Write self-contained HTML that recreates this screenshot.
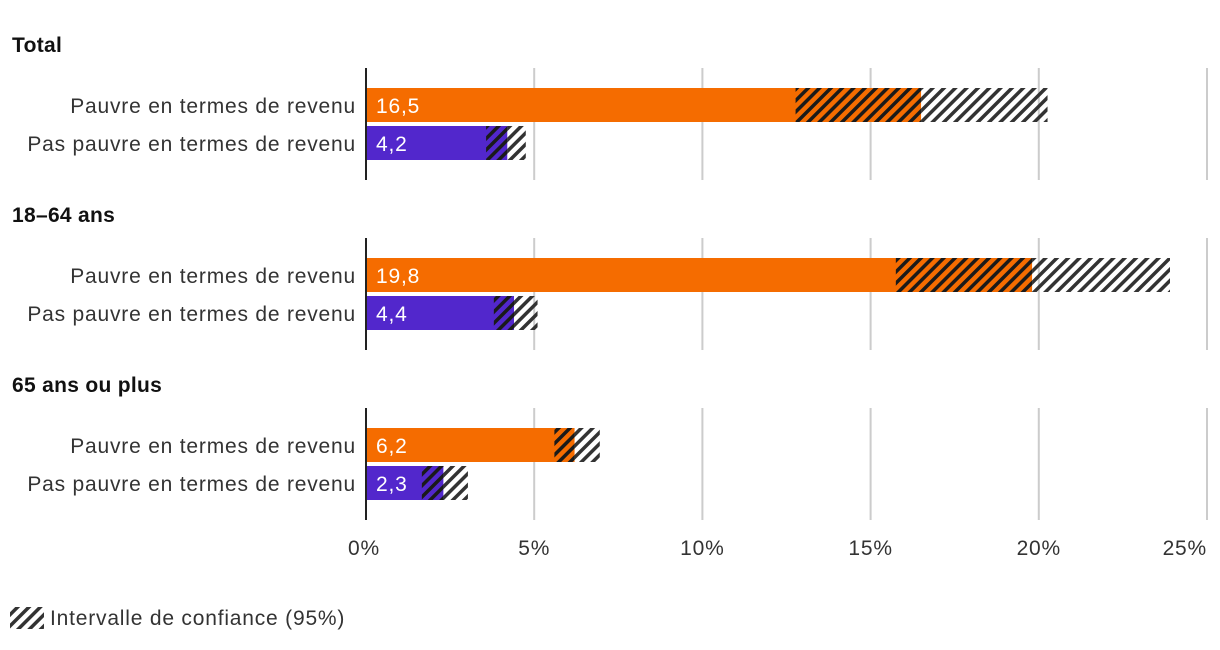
<!DOCTYPE html>
<html><head><meta charset="utf-8"><style>
body{margin:0;background:#fff;}
svg{display:block;font-family:"Liberation Sans",sans-serif;}
</style></head><body>
<svg id="chart" width="1220" height="650">
<defs>
<pattern id="hatch" patternUnits="userSpaceOnUse" width="8" height="8" patternTransform="rotate(45)">
<rect x="0" y="0" width="3.5" height="8" fill="#333"/>
</pattern>
<pattern id="hatchDark" patternUnits="userSpaceOnUse" width="8" height="8" patternTransform="rotate(45)">
<rect x="0" y="0" width="3.5" height="8" fill="#1a1a1a"/>
</pattern>
</defs>
</svg>
<script>
const groups=["Total","18–64 ans","65 ans ou plus"];
const categories=["Pauvre en termes de revenu","Pas pauvre en termes de revenu"];
const values=[[16.5,4.2],[19.8,4.4],[6.2,2.3]];
const ciLow=[[12.77,3.57],[15.75,3.8],[5.6,1.66]];
const ciHigh=[[20.26,4.75],[23.9,5.1],[6.95,3.03]];
const ticks=[0,5,10,15,20,25];
const colors=["#f56c00","#5227cc"];
const svg=document.getElementById('chart');
const NS="http://www.w3.org/2000/svg";
const x=v=>366+v*(1207-366)/25;
const LS='0.8';
function el(t,a,txt){const e=document.createElementNS(NS,t);for(const k in a)e.setAttribute(k,a[k]);if(txt!==undefined)e.textContent=txt;svg.appendChild(e);return e;}
groups.forEach((g,gi)=>{
 const oy=gi*170;
 const gt=el('text',{x:12,y:52+oy,'font-size':21,'font-weight':'bold',fill:'#111','letter-spacing':'0.3'},g);
 
 
 ticks.forEach(t=>{if(t===0)return;
  const l=el('line',{x1:x(t),x2:x(t),y1:68+oy,y2:180+oy,stroke:'#ccc','stroke-width':2});
  
  
 });
 categories.forEach((c,ci)=>{
  const y=88+oy+ci*38;
  const lab=el('text',{x:356,y:y+25,'font-size':21,fill:'#333','text-anchor':'end','letter-spacing':LS},c);
  
  
  const b=el('rect',{x:x(0),y:y,width:x(values[gi][ci])-x(0),height:34,fill:colors[ci]});
  
  
  const h1=el('rect',{x:x(ciLow[gi][ci]),y:y,width:x(values[gi][ci])-x(ciLow[gi][ci]),height:34,fill:'url(#hatchDark)'});
  
  
  const h2=el('rect',{x:x(values[gi][ci]),y:y,width:x(ciHigh[gi][ci])-x(values[gi][ci]),height:34,fill:'url(#hatch)'});
  
  
  const vt=el('text',{x:x(0)+10,y:y+25,'font-size':21,fill:'#fff','letter-spacing':LS},values[gi][ci].toFixed(1).replace('.',','));
  
  
 });
 const ax=el('line',{x1:x(0),x2:x(0),y1:68+oy,y2:180+oy,stroke:'#222','stroke-width':2});
 
 
});
ticks.forEach(t=>{
 const tl=el('text',{x:x(t),y:555,'font-size':21,fill:'#333','letter-spacing':LS,'text-anchor':t===25?'end':'middle'},t+'%');
 if(t===0)tl.setAttribute('x',x(0)-2);
 
 
});
const lg=el('rect',{x:10,y:607,width:34,height:22,fill:'url(#hatch)'});


const lt=el('text',{x:50,y:625,'font-size':21,fill:'#333','letter-spacing':LS},'Intervalle de confiance (95%)');


</script>
</body></html>
